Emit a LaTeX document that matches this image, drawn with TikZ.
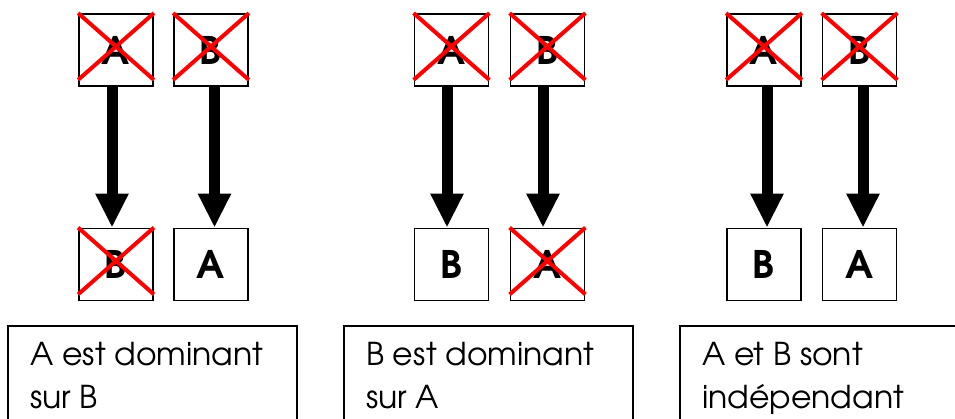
\documentclass[tikz,border=0pt]{standalone}
\usepackage{fontspec}
\setmainfont{TeX Gyre Adventor}
\usetikzlibrary{arrows.meta}
\tikzset{
  box/.style={draw=black, line width=1.8pt, minimum width=74pt, minimum height=72pt, inner sep=0pt,
    font=\fontsize{38}{38}\selectfont\bfseries},
  cross/.style={draw=red, line width=4pt},
  bigarrow/.style={line width=11pt, -{Triangle[width=31pt,length=34pt]}},
  textbox/.style={draw=black, line width=1.8pt, minimum width=289pt, minimum height=130pt, anchor=north west, inner sep=0pt},
  txt/.style={anchor=north west, align=left, inner sep=0pt, font=\fontsize{31.5}{43}\selectfont}
}
\newcommand{\crossout}[1]{%
  \draw[cross] (#1.north west) -- ([yshift=7pt]#1.south east);
  \draw[cross] (#1.north east) -- ([yshift=7pt]#1.south west);}
\begin{document}
\begin{tikzpicture}[x=1pt,y=-1pt]
\useasboundingbox (0,0) rectangle (955,419);
% column 1
\node[box] (a1t) at (116,50) {A};
\node[box] (b1t) at (211,50) {B};
\node[box] (b1b) at (116,264.5) {B};
\node[box] (a1b) at (211,264.5) {A};
% column 2
\node[box] (a2t) at (451.5,50) {A};
\node[box] (b2t) at (547.5,50) {B};
\node[box] (b2b) at (451.5,264.5) {B};
\node[box] (a2b) at (547.5,264.5) {A};
% column 3
\node[box] (a3t) at (764,50) {A};
\node[box] (b3t) at (859.5,50) {B};
\node[box] (b3b) at (764,264.5) {B};
\node[box] (a3b) at (859.5,264.5) {A};
% arrows
\draw[bigarrow] ([xshift=-4pt]a1t.south) -- ([xshift=-4pt]b1b.north);
\draw[bigarrow] ([xshift=3.5pt]b1t.south) -- ([xshift=3.5pt]a1b.north);
\draw[bigarrow] ([xshift=-4.5pt]a2t.south) -- ([xshift=-4.5pt]b2b.north);
\draw[bigarrow] ([xshift=-4.5pt]b2t.south) -- ([xshift=-4.5pt]a2b.north);
\draw[bigarrow] ([xshift=3pt]a3t.south) -- ([xshift=3pt]b3b.north);
\draw[bigarrow] ([xshift=3.5pt]b3t.south) -- ([xshift=3.5pt]a3b.north);
% crosses
\crossout{a1t}\crossout{b1t}\crossout{b1b}
\crossout{a2t}\crossout{b2t}\crossout{a2b}
\crossout{a3t}\crossout{b3t}
% text boxes
\node[textbox] (t1) at (7,325) {};
\node[textbox] (t2) at (343,325) {};
\node[textbox] (t3) at (679,325) {};
\node[txt] (l1) at ([xshift=23pt,yshift=-17.5pt]t1.north west) {A est dominant\\sur B};
\node[txt] (l2) at ([xshift=23pt,yshift=-17.5pt]t2.north west) {B est dominant\\sur A};
\node[txt] (l3) at ([xshift=23pt,yshift=-17.5pt]t3.north west) {A et B sont\\indépendant};
\end{tikzpicture}
\end{document}
